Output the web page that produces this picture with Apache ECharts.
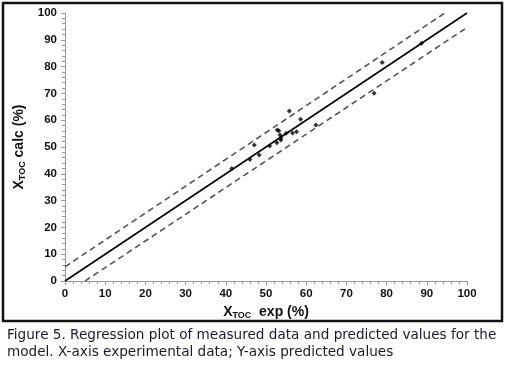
<!DOCTYPE html>
<html>
<head>
<meta charset="utf-8">
<script src="https://cdn.jsdelivr.net/npm/echarts@6/dist/echarts.min.js"></script>
<style>
  html, body { margin: 0; padding: 0; background: #fff; }
  #chart { width: 508px; height: 365px; }
</style>
</head>
<body>
<div id="chart"></div>
<script>
// measured (exp) vs predicted (calc) TOC conversion, %
const expX = [41.5, 46.0, 47.1, 48.3, 50.9, 52.7, 52.8, 53.2, 53.5, 53.7, 53.7, 55.0, 55.8, 56.6, 57.6, 58.6, 62.4, 76.9, 78.9, 88.7];
const calcY = [42.0, 45.3, 50.7, 47.0, 50.4, 51.6, 56.3, 56.1, 54.5, 52.6, 53.4, 55.1, 63.4, 55.2, 55.7, 60.4, 58.2, 70.1, 81.5, 88.7];
// regression line and confidence band
const fitLine = [[0, 0], [100, 100]];
const upperBand = [[0, 5.3], [94.5, 100]];
const lowerBand = [[5, 0], [99.7, 94.3]];
const caption = [
  'Figure 5. Regression plot of measured data and predicted values for the',
  'model. X-axis experimental data; Y-axis predicted values'
];

const chart = echarts.init(document.getElementById('chart'));

const axisCommon = {
  min: 0,
  max: 100,
  interval: 10,
  splitLine: { show: false },
  axisLine: { lineStyle: { color: '#9a9a9a', width: 1 } },
  axisTick: { length: 4, lineStyle: { color: '#9a9a9a' } },
  minorTick: { show: true, splitNumber: 5, length: 3, lineStyle: { color: '#9a9a9a' } },
  axisLabel: { color: '#111', fontFamily: 'Liberation Sans', fontWeight: 'bold', fontSize: 11.5 }
};

const titleRich = {
  b: { fontFamily: 'Liberation Sans', fontWeight: 'bold', fontSize: 14, lineHeight: 16, color: '#111' },
  sub: { fontFamily: 'Liberation Sans', fontWeight: 'bold', fontSize: 9, lineHeight: 9, color: '#111', verticalAlign: 'bottom' }
};

const option = {
  animation: false,
  grid: { left: 65, right: 41, top: 13, bottom: 84 },
  xAxis: Object.assign({}, axisCommon, {
    type: 'value',
    name: '{b|X}{sub|TOC}{b|  exp (%)}',
    nameLocation: 'middle',
    nameGap: 22,
    nameTextStyle: { rich: titleRich },
    axisLabel: Object.assign({}, axisCommon.axisLabel, { margin: 7 })
  }),
  yAxis: Object.assign({}, axisCommon, {
    type: 'value',
    name: '{b|X}{sub|TOC}{b| calc (%)}',
    nameLocation: 'middle',
    nameGap: 35,
    nameTextStyle: { rich: titleRich },
    axisLabel: Object.assign({}, axisCommon.axisLabel, { margin: 8 })
  }),
  graphic: [
    {
      type: 'rect',
      shape: { x: 3, y: 3, width: 499, height: 318 },
      style: { fill: 'none', stroke: '#111', lineWidth: 2.5 },
      silent: true
    },
    {
      type: 'text', left: 7, top: 328,
      style: { text: caption[0], font: '13.6px "DejaVu Sans"', fill: '#1a1a2a' }
    },
    {
      type: 'text', left: 7, top: 345,
      style: { text: caption[1], font: '13.6px "DejaVu Sans"', fill: '#1a1a2a' }
    }
  ],
  series: [
    {
      type: 'line',
      data: fitLine,
      symbol: 'none',
      lineStyle: { color: '#000', width: 1.6 },
      z: 2
    },
    {
      type: 'line',
      data: upperBand,
      symbol: 'none',
      lineStyle: { color: '#555', width: 1.6, type: [6, 4] },
      z: 2
    },
    {
      type: 'line',
      data: lowerBand,
      symbol: 'none',
      lineStyle: { color: '#555', width: 1.6, type: [6, 4] },
      z: 2
    },
    {
      type: 'scatter',
      data: expX.map((x, i) => [x, calcY[i]]),
      symbol: 'diamond',
      symbolSize: 5,
      itemStyle: { color: '#000' },
      z: 3
    }
  ]
};

chart.setOption(option);
</script>
</body>
</html>
